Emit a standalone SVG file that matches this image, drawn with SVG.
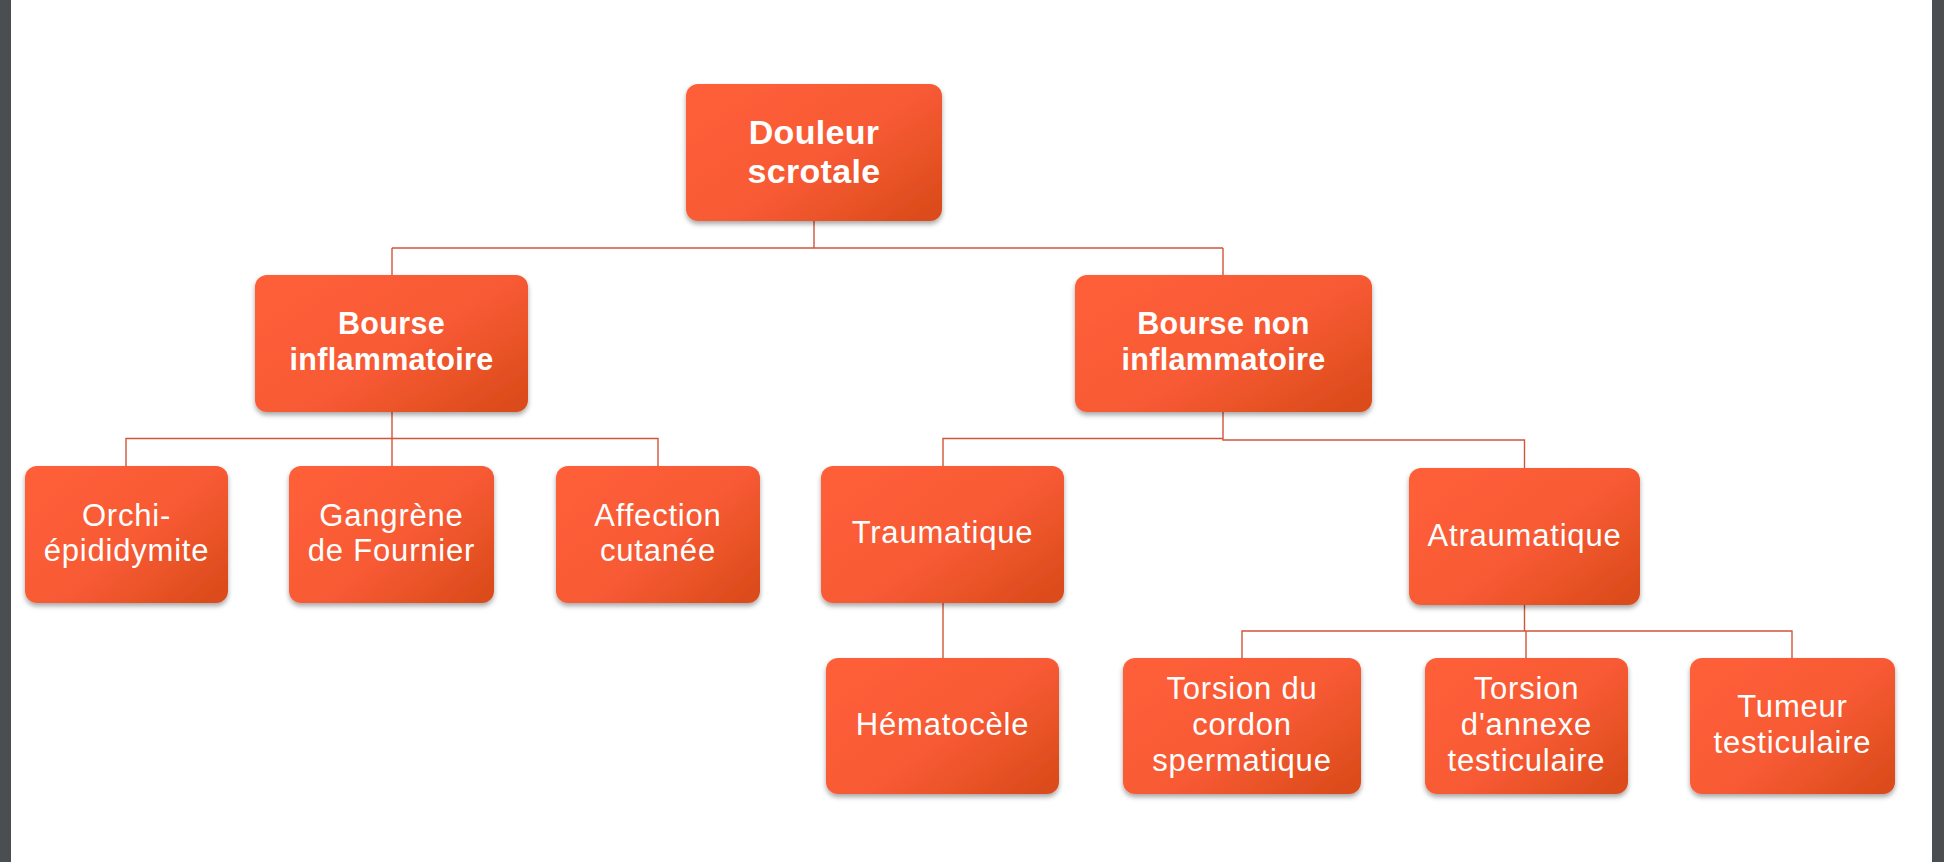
<svg xmlns="http://www.w3.org/2000/svg" width="1944" height="862" viewBox="0 0 1944 862">
<style>
.box{fill:url(#g);filter:url(#sh)}
.t{font-family:"Liberation Sans",Arial,sans-serif;fill:#FFFFFF;text-anchor:middle;font-size:31px;letter-spacing:0.8px}
.b{font-weight:bold;font-size:30.5px;letter-spacing:0.3px}
.c{fill:none;stroke:#D0563A;stroke-width:1.4}
</style>
<defs>
<linearGradient id="g" x1="0" y1="0.1" x2="1" y2="0.9">
<stop offset="0" stop-color="#FF5F39"/>
<stop offset="0.55" stop-color="#F75A34"/>
<stop offset="1" stop-color="#DB4B1A"/>
</linearGradient>
<filter id="sh" x="-10%" y="-10%" width="120%" height="125%">
<feDropShadow dx="0" dy="3" stdDeviation="2.5" flood-color="#000000" flood-opacity="0.35"/>
</filter>
</defs>
<rect x="0" y="0" width="1944" height="862" fill="#FFFFFF"/>
<rect x="0" y="0" width="11" height="862" fill="#4B4E51"/>
<rect x="1932" y="0" width="12" height="862" fill="#4B4E51"/>
<g id="connectors">
<path class="c" d="M814 221V248M392 248H1223M392 248V275M1223 248V275"/>
<path class="c" d="M392 412V438.5M126 466V438.5H658V466M392 438.5V466"/>
<path class="c" d="M1223 412V440H1524.5V468M1223 438.5H943V466"/>
<path class="c" d="M943 603V658"/>
<path class="c" d="M1524.5 605V631M1242 658V631H1792V658M1526 631V658"/>
</g>
<g id="n1"><rect class="box" x="686" y="84" width="256" height="137" rx="12"/>
<text class="t b" style="font-size:34px" x="814" y="144">Douleur<tspan x="814" dy="39">scrotale</tspan></text></g>
<g id="n2"><rect class="box" x="255" y="275" width="273" height="137" rx="12"/>
<text class="t b" x="391.5" y="334">Bourse<tspan x="391.5" dy="36">inflammatoire</tspan></text></g>
<g id="n3"><rect class="box" x="1075" y="275" width="297" height="137" rx="12"/>
<text class="t b" x="1223.5" y="334">Bourse non<tspan x="1223.5" dy="36">inflammatoire</tspan></text></g>
<g id="n4"><rect class="box" x="25" y="466" width="203" height="137" rx="12"/>
<text class="t" x="126.5" y="526">Orchi-<tspan x="126.5" dy="35">épididymite</tspan></text></g>
<g id="n5"><rect class="box" x="289" y="466" width="205" height="137" rx="12"/>
<text class="t" x="391.5" y="526">Gangrène<tspan x="391.5" dy="35">de Fournier</tspan></text></g>
<g id="n6"><rect class="box" x="556" y="466" width="204" height="137" rx="12"/>
<text class="t" x="658" y="526">Affection<tspan x="658" dy="35">cutanée</tspan></text></g>
<g id="n7"><rect class="box" x="821" y="466" width="243" height="137" rx="12"/>
<text class="t" x="942.5" y="543">Traumatique</text></g>
<g id="n8"><rect class="box" x="1409" y="468" width="231" height="137" rx="12"/>
<text class="t" x="1524.5" y="546">Atraumatique</text></g>
<g id="n9"><rect class="box" x="826" y="658" width="233" height="136" rx="12"/>
<text class="t" x="942.5" y="735">Hématocèle</text></g>
<g id="n10"><rect class="box" x="1123" y="658" width="238" height="136" rx="12"/>
<text class="t" x="1242" y="699">Torsion du<tspan x="1242" dy="36">cordon</tspan><tspan x="1242" dy="36">spermatique</tspan></text></g>
<g id="n11"><rect class="box" x="1425" y="658" width="203" height="136" rx="12"/>
<text class="t" x="1526.5" y="699">Torsion<tspan x="1526.5" dy="36">d'annexe</tspan><tspan x="1526.5" dy="36">testiculaire</tspan></text></g>
<g id="n12"><rect class="box" x="1690" y="658" width="205" height="136" rx="12"/>
<text class="t" x="1792.5" y="717">Tumeur<tspan x="1792.5" dy="36">testiculaire</tspan></text></g>
</svg>
